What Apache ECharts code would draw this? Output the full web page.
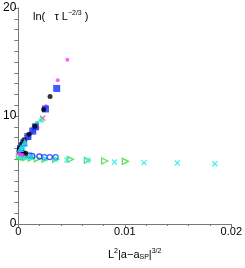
<!DOCTYPE html>
<html><head><meta charset="utf-8">
<script src="https://cdn.jsdelivr.net/npm/echarts@6/dist/echarts.min.js"></script>
<style>html,body{margin:0;padding:0;background:#fff}#c{width:245px;height:268px}</style>
</head><body><div id="c"></div>
<script>
// x values of the scaling variable, y = ln(tau L^-2/3)
const magentaUpper = [[0.0001,6.9],[0.0004,7.3],[0.0008,7.9],[0.0012,8.4],[0.0018,8.9],[0.0026,10.9],[0.0037,13.3],[0.0046,15.2]];
const magentaLower = [[0.00005,6.5],[0.0002,6.45],[0.0004,6.4]];
const blueUpper = [[0.0002,7.0],[0.0005,7.5],[0.0009,8.1],[0.00135,8.6],[0.0016,9.0],[0.00255,10.65],[0.0036,12.55]];
const blueLower = [[0.0006,6.4],[0.00106,6.35],[0.0013,6.3],[0.00197,6.25],[0.00243,6.2],[0.00295,6.2],[0.0035,6.2]];
const blackUpper = [[0.0001,7.0],[0.0003,7.4],[0.00052,7.8],[0.001,8.3],[0.00155,9.05],[0.00237,10.6],[0.00298,11.8]];
const blackLower = [[0.00005,6.75],[0.0001,6.72],[0.0002,6.7],[0.0003,6.66],[0.0005,6.6],[0.0007,6.55]];
const redUpper = [[0.0003,7.3],[0.0008,8.0],[0.0014,8.7],[0.00228,9.8]];
const greenUpper = [[0.0004,7.3],[0.001,8.0],[0.0016,9.0],[0.00175,9.38]];
const greenLower = [[0.0001,6.25],[0.0003,6.2],[0.0005,6.18],[0.0007,6.15],[0.0012,6.1],[0.0018,6.05],[0.0025,6.0],[0.0035,6.0],[0.00488,5.99],[0.00648,5.9],[0.00811,5.83],[0.01005,5.8]];
const cyanUpper = [[0.0002,7.0],[0.0004,7.2],[0.0006,7.6],[0.00212,9.72]];
const cyanLower = [[0.0001,6.32],[0.0002,6.3],[0.0004,6.28],[0.0006,6.25],[0.0009,6.2],[0.0012,6.15],[0.0025,6.05],[0.0035,6.0],[0.00458,5.93],[0.0065,5.88],[0.00903,5.74],[0.0118,5.68],[0.01493,5.65],[0.01846,5.58]];
const yTicks = [0,10,20];
const xTicks = [0,0.01,0.02];

const X = 'path://M0,0L10,10M10,0L0,10';
function filled(data, color, symbol, size){
  return {type:'scatter', data, symbol, symbolSize:size, itemStyle:{color}, silent:true};
}
function open(data, color, symbol, size, rot){
  return {type:'scatter', data, symbol, symbolSize:size, symbolRotate:rot||0,
    itemStyle:{color:'rgba(0,0,0,0)', borderColor:color, borderWidth:1.3}, silent:true};
}
const chart = echarts.init(document.getElementById('c'), null, {renderer:'canvas'});
chart.setOption({
  animation:false,
  grid:{left:17, right:11, top:8, bottom:44, containLabel:false},
  xAxis:{type:'value', min:0, max:0.02, interval:0.01,
    axisLine:{lineStyle:{color:'#777', width:1}},
    axisTick:{length:3, lineStyle:{color:'#777'}},
    minorTick:{show:true, splitNumber:5, length:2, lineStyle:{color:'#777'}},
    splitLine:{show:false},
    axisLabel:{color:'#000', fontSize:11, fontFamily:'Liberation Sans', margin:2,
      formatter:v=>{const i=xTicks.indexOf(Math.round(v*1000)/1000);return i>=0?String(xTicks[i]):'';}}},
  yAxis:{type:'value', min:0, max:20, interval:10,
    axisLine:{lineStyle:{color:'#777', width:1}},
    axisTick:{length:4, lineStyle:{color:'#777'}},
    minorTick:{show:true, splitNumber:10, length:4, lineStyle:{color:'#777'}},
    splitLine:{show:false},
    axisLabel:{color:'#000', fontSize:12, fontFamily:'Liberation Sans', margin:2,
      formatter:v=>yTicks.includes(v)?String(v):''}},
  series:[
    open(greenLower,'#33dd33','triangle',6,-90),
    open(blueLower,'#2233ff','circle',5),
    open(cyanLower,'#22e8f0',X,5),
    filled(blackLower,'#000','circle',5),
    filled(magentaLower,'#ff33ff','circle',4),
    filled(greenUpper,'#33dd33','circle',4),
    open(redUpper,'#ff3333',X,5),
    filled(magentaUpper,'#ff33ff','circle',4),
    filled(blueUpper,'#1133ff','rect',7),
    filled(blackUpper,'#000','circle',5),
    filled(cyanUpper,'#22e8f0','triangle',7)
  ],
  graphic:[
    {type:'text', left:33, top:10, style:{
      text:'{n|ln(   τ L}{s|−2/3}{n| )}',
      rich:{n:{fontSize:11,fontFamily:'Liberation Sans',fill:'#000'},
            s:{fontSize:7,fontFamily:'Liberation Sans',fill:'#000',verticalAlign:'top',padding:[0,0,6,0]}}}},
    {type:'text', left:108, top:248, style:{
      text:'{n|L}{s|2}{n||a−a}{b|SP}{n||}{s|3/2}',
      rich:{n:{fontSize:11,fontFamily:'Liberation Sans',fill:'#000'},
            s:{fontSize:7,fontFamily:'Liberation Sans',fill:'#000',padding:[0,0,7,0]},
            b:{fontSize:7,fontFamily:'Liberation Sans',fill:'#000',padding:[5,0,0,0]}}}}
  ]
});
</script></body></html>
